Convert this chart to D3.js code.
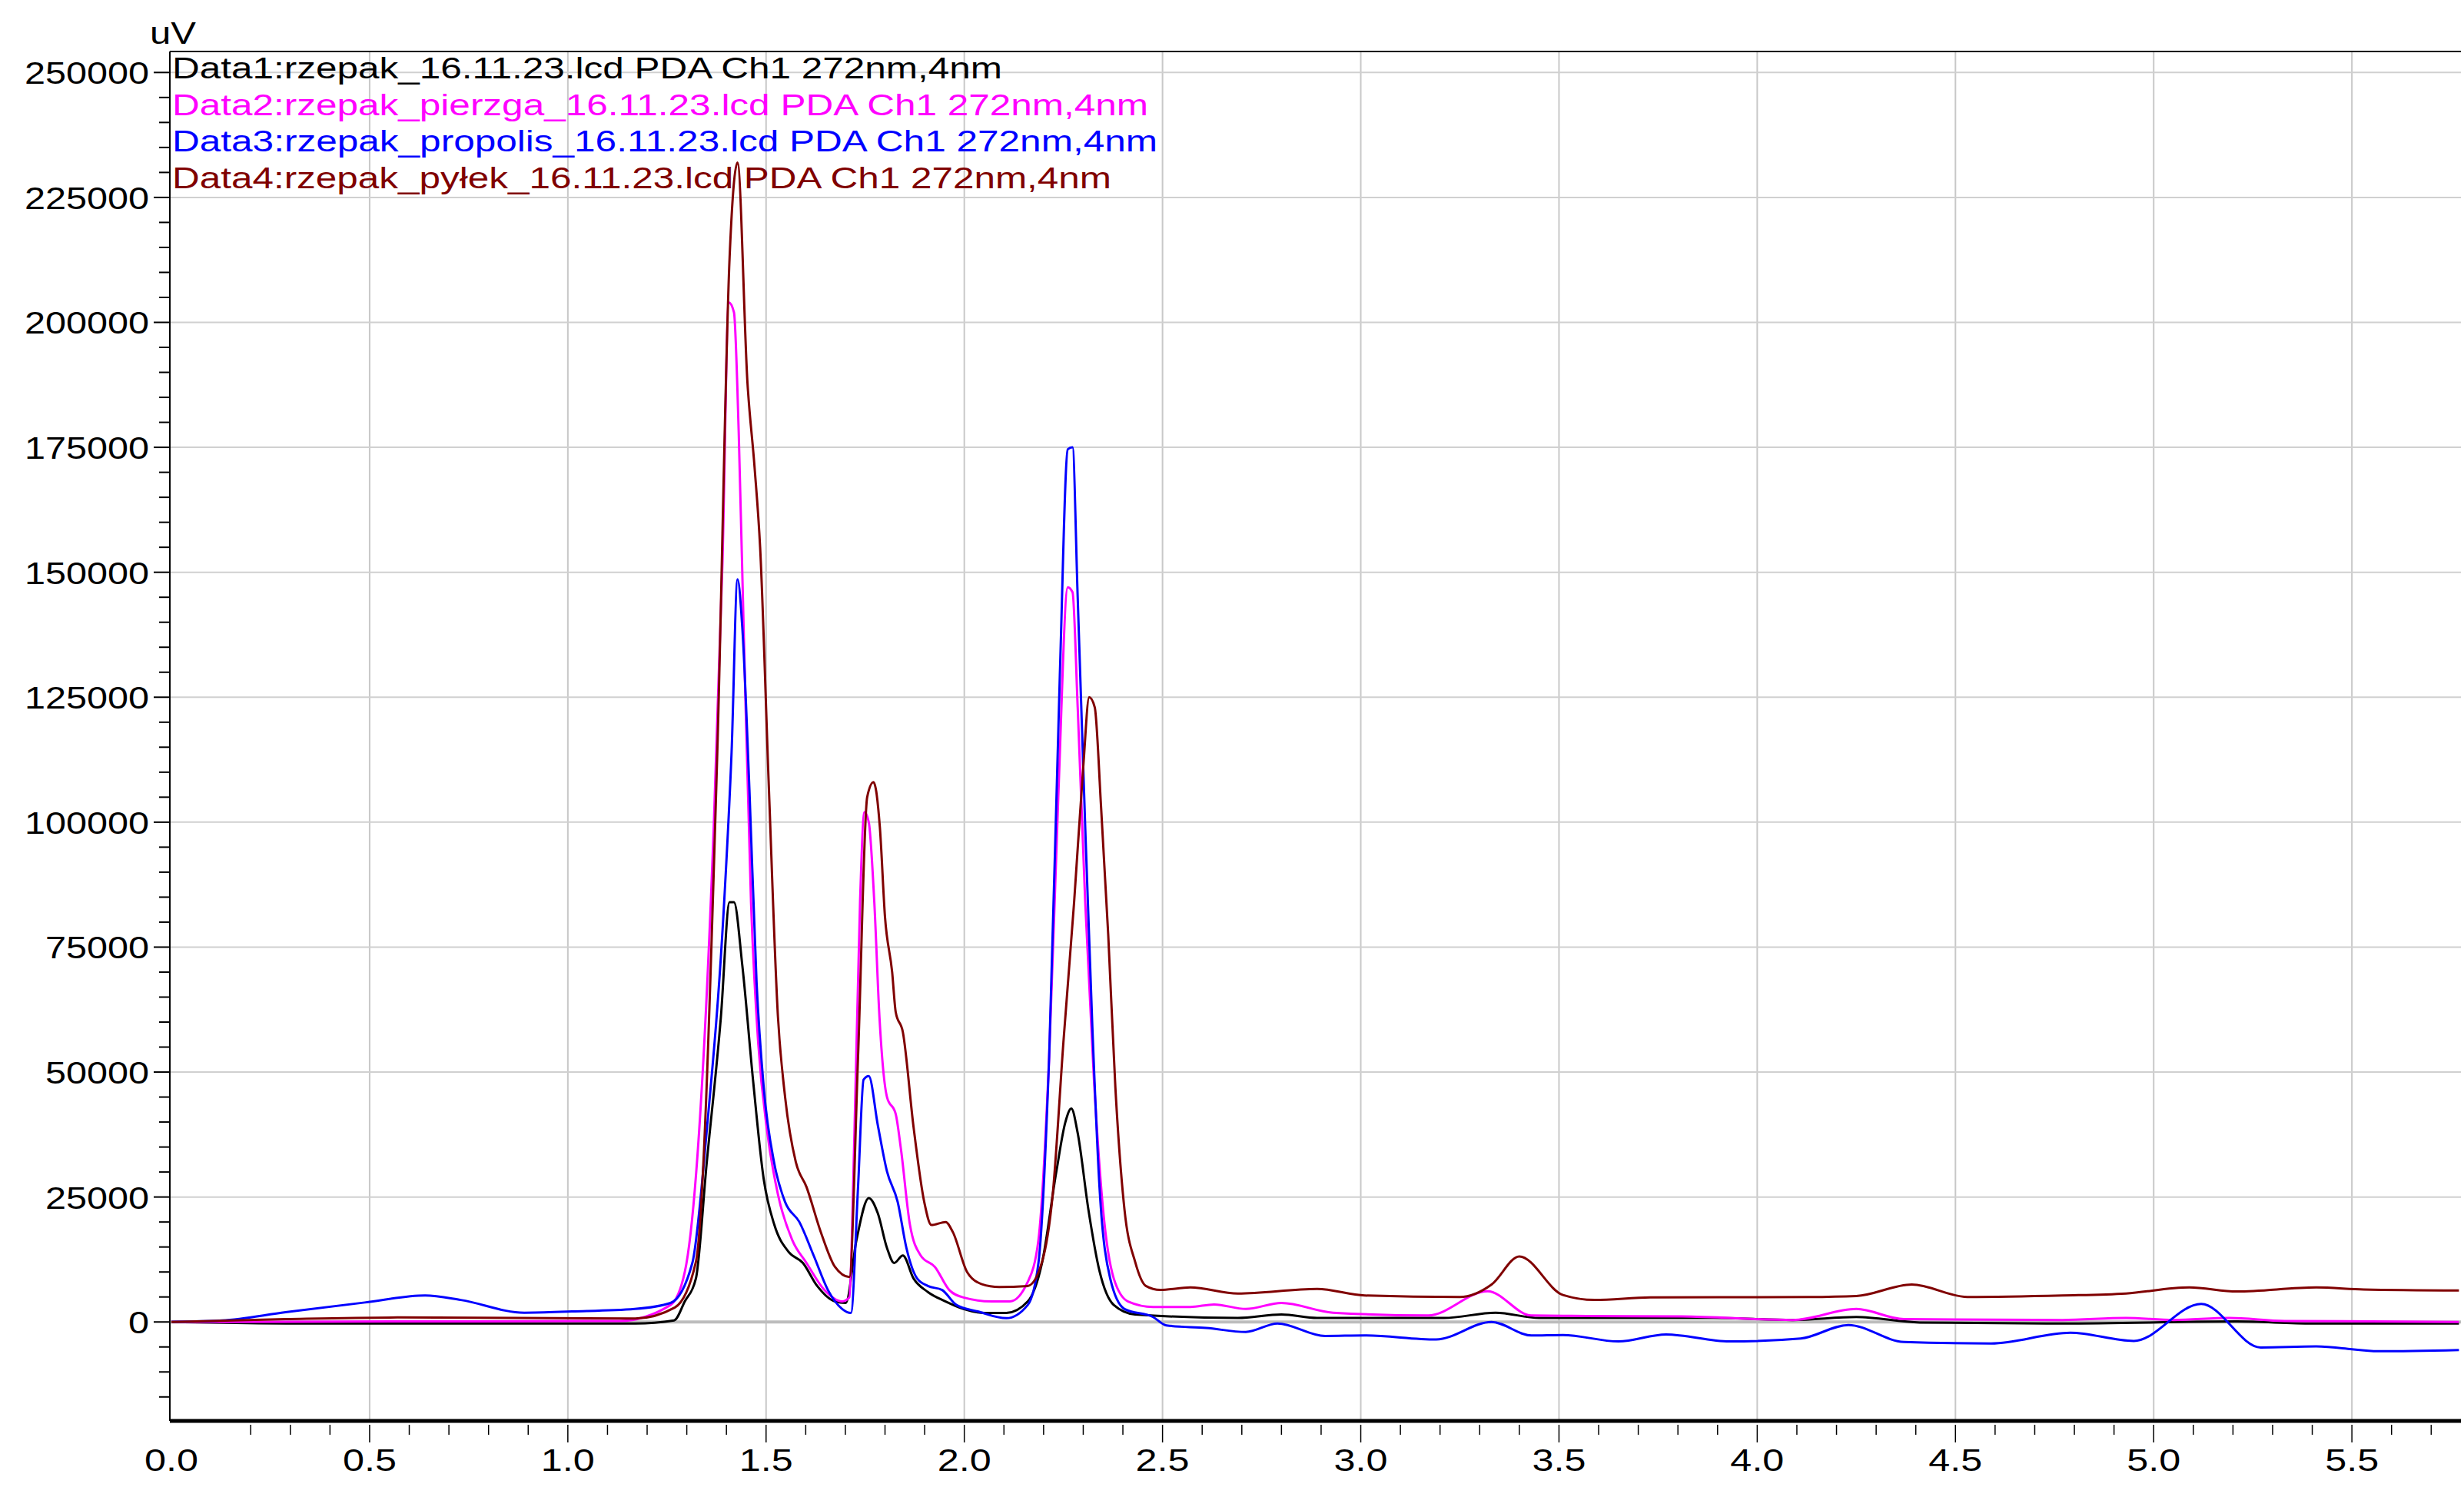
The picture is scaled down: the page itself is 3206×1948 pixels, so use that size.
<!DOCTYPE html>
<html><head><meta charset="utf-8">
<script src="https://cdn.jsdelivr.net/npm/d3@7"></script>
<style>body{margin:0;background:#fff}text{font-family:"Liberation Sans",Arial,sans-serif}</style>
</head><body><div id="chart-area"></div>
<script>
// retention time (min) / signal (uV) pairs
var data1 = [[0,0],[0.29,-300],[1.17,-300],[1.268,300],[1.295,4100],[1.323,8700],[1.35,31600],[1.386,61000],[1.408,84000],[1.419,84000],[1.44,71400],[1.467,48500],[1.494,28600],[1.521,19400],[1.557,14000],[1.593,11800],[1.629,7200],[1.674,4100],[1.701,3800],[1.728,16400],[1.759,24800],[1.782,21700],[1.805,14800],[1.823,11800],[1.845,13300],[1.872,8700],[1.908,6000],[1.953,4100],[1.998,2600],[2.052,1800],[2.106,1800],[2.16,4100],[2.196,11800],[2.232,30000],[2.255,40000],[2.27,42700],[2.286,37800],[2.313,22500],[2.341,10200],[2.377,3400],[2.431,1500],[2.69,800],[2.8,1500],[2.89,800],[3.21,800],[3.34,1850],[3.45,800],[3.89,800],[4.09,400],[4.25,1000],[4.41,-100],[4.77,-300],[5.21,100],[5.4,-300],[5.77,-300]];
var data2 = [[0,0],[0.57,100],[1.13,200],[1.259,3400],[1.295,10000],[1.331,38000],[1.368,99000],[1.39,152000],[1.406,204000],[1.419,202000],[1.431,178000],[1.444,137000],[1.462,84000],[1.48,56000],[1.503,38000],[1.53,25500],[1.566,16400],[1.602,11800],[1.647,6400],[1.692,4100],[1.71,4900],[1.723,38000],[1.737,84000],[1.748,102000],[1.759,100000],[1.773,84000],[1.786,61000],[1.805,45000],[1.827,41600],[1.84,34700],[1.863,19400],[1.89,13300],[1.926,11000],[1.962,6400],[1.998,4900],[2.07,4100],[2.115,4100],[2.16,8000],[2.187,16400],[2.214,53000],[2.237,105000],[2.261,147000],[2.273,146000],[2.286,123000],[2.305,84000],[2.327,48500],[2.35,22500],[2.377,8700],[2.413,4100],[2.476,3000],[2.57,3000],[2.63,3500],[2.71,2600],[2.8,3800],[2.93,1850],[3.17,1300],[3.32,6150],[3.43,1300],[3.57,1200],[3.81,1100],[4.09,400],[4.25,2600],[4.37,560],[4.77,400],[4.93,800],[5.05,400],[5.19,800],[5.33,200],[5.77,0]];
var data3 = [[0,0],[0.128,300],[0.288,1950],[0.488,3900],[0.64,5300],[0.73,4400],[0.89,1850],[1.01,2100],[1.169,2600],[1.259,3800],[1.314,11800],[1.35,38000],[1.395,85000],[1.413,114000],[1.428,148600],[1.44,139000],[1.458,106500],[1.476,68000],[1.494,47000],[1.521,31600],[1.548,24000],[1.584,20000],[1.62,13300],[1.656,6400],[1.692,2600],[1.714,1800],[1.732,27000],[1.746,48500],[1.759,49200],[1.782,39300],[1.805,30100],[1.832,24000],[1.854,14800],[1.881,8700],[1.908,7200],[1.944,6400],[1.98,3400],[2.034,2100],[2.106,750],[2.16,3400],[2.187,11800],[2.214,53000],[2.241,129500],[2.261,174600],[2.273,175000],[2.286,145000],[2.305,99000],[2.323,59000],[2.341,27000],[2.368,8700],[2.404,2600],[2.476,1000],[2.51,-700],[2.61,-1200],[2.71,-2000],[2.79,-300],[2.91,-2800],[3.01,-2700],[3.19,-3500],[3.33,0],[3.43,-2700],[3.51,-2600],[3.65,-3900],[3.77,-2500],[3.93,-3900],[4.11,-3300],[4.23,-600],[4.37,-4000],[4.59,-4300],[4.79,-2150],[4.95,-3800],[5.12,3600],[5.27,-5100],[5.41,-4900],[5.57,-5850],[5.77,-5600]];
var data4 = [[0,0],[0.288,560],[0.57,900],[1.17,700],[1.27,2900],[1.323,12000],[1.377,114000],[1.408,213000],[1.428,232000],[1.453,188000],[1.471,171000],[1.485,155000],[1.507,107000],[1.53,61000],[1.548,45000],[1.575,32000],[1.602,27000],[1.638,18000],[1.674,11000],[1.71,9000],[1.732,53000],[1.755,105000],[1.771,108000],[1.787,99000],[1.8,81000],[1.818,70000],[1.827,62000],[1.845,58000],[1.872,39000],[1.899,24000],[1.917,19400],[1.953,20000],[1.971,18000],[2.007,10000],[2.043,7600],[2.088,7000],[2.16,7200],[2.196,12000],[2.223,25500],[2.25,56000],[2.277,84000],[2.3,111000],[2.315,125000],[2.329,123000],[2.345,103000],[2.363,77500],[2.381,47000],[2.404,22500],[2.431,12000],[2.458,7200],[2.494,6400],[2.57,6900],[2.69,5700],[2.89,6600],[3.01,5300],[3.25,5000],[3.33,7500],[3.4,13100],[3.51,5400],[3.59,4400],[3.73,4900],[4.13,5000],[4.25,5200],[4.39,7500],[4.53,5000],[4.77,5300],[4.93,5700],[5.09,6900],[5.21,6100],[5.41,6900],[5.53,6500],[5.77,6300]];
var series = [data1, data2, data3, data4];
var colors = ["#000000", "#ff00ff", "#0000ff", "#800000"];
var names = ["Data1:rzepak_16.11.23.lcd PDA Ch1 272nm,4nm",
             "Data2:rzepak_pierzga_16.11.23.lcd PDA Ch1 272nm,4nm",
             "Data3:rzepak_propolis_16.11.23.lcd PDA Ch1 272nm,4nm",
             "Data4:rzepak_pyłek_16.11.23.lcd PDA Ch1 272nm,4nm"];
var nameWidths = [1080, 1270, 1282, 1222];
var yTicks = [0, 25000, 50000, 75000, 100000, 125000, 150000, 175000, 200000, 225000, 250000];
var xTicks = [0.0, 0.5, 1.0, 1.5, 2.0, 2.5, 3.0, 3.5, 4.0, 4.5, 5.0, 5.5];

var W = 3206, H = 1948;
var pLeft = 221, pRight = 3202, pTop = 67, pBottom = 1849;
var svg = d3.select("#chart-area").append("svg").attr("width", W).attr("height", H);

var x = d3.scaleLinear().domain([0, 5.775]).range([pLeft + 2, pRight]);
var y = d3.scaleLinear().domain([-19800, 254200]).range([pBottom, pTop]);

// grid
svg.append("g").selectAll("line").data(xTicks.slice(1)).enter().append("line")
    .attr("x1", d => x(d)).attr("x2", d => x(d)).attr("y1", pTop).attr("y2", pBottom)
    .attr("stroke", "#c8c8c8").attr("stroke-width", 2);
svg.append("g").selectAll("line").data(yTicks).enter().append("line")
    .attr("x1", pLeft).attr("x2", pRight).attr("y1", d => y(d)).attr("y2", d => y(d))
    .attr("stroke", d => d == 0 ? "#bdbdbd" : "#d0d0d0").attr("stroke-width", d => d == 0 ? 4 : 2);

// frame
svg.append("line").attr("x1", pLeft).attr("x2", pRight).attr("y1", pTop).attr("y2", pTop).attr("stroke", "#000").attr("stroke-width", 2);
svg.append("line").attr("x1", pLeft).attr("x2", pLeft).attr("y1", pTop).attr("y2", pBottom).attr("stroke", "#000").attr("stroke-width", 2);
svg.append("line").attr("x1", pLeft).attr("x2", pRight).attr("y1", pBottom).attr("y2", pBottom).attr("stroke", "#000").attr("stroke-width", 5);

// y ticks
var yMinor = d3.range(-15000, 254000, 5000);
svg.append("g").selectAll("line").data(yMinor).enter().append("line")
    .attr("x1", d => d % 25000 == 0 ? 200 : 207).attr("x2", pLeft).attr("y1", d => y(d)).attr("y2", d => y(d))
    .attr("stroke", "#000").attr("stroke-width", 2);
svg.append("g").selectAll("text").data(yTicks).enter().append("text")
    .attr("x", 194).attr("y", d => y(d) + 15).attr("text-anchor", "end")
    .attr("font-size", 40).attr("textLength", d => String(d).length * 27).attr("lengthAdjust", "spacingAndGlyphs")
    .text(d => d);
svg.append("text").attr("x", 195).attr("y", 57).attr("font-size", 40).attr("textLength", 60)
    .attr("lengthAdjust", "spacingAndGlyphs").text("uV");

// x ticks
var xMinor = d3.range(0.2, 5.76, 0.1).map(d => Math.round(d * 10) / 10).filter(d => Math.round(d * 10) % 5 != 0);
svg.append("g").selectAll("line").data(xMinor).enter().append("line")
    .attr("x1", d => x(d)).attr("x2", d => x(d)).attr("y1", pBottom + 5).attr("y2", pBottom + 18)
    .attr("stroke", "#000").attr("stroke-width", 1.5);
svg.append("g").selectAll("line").data(xTicks.slice(1)).enter().append("line")
    .attr("x1", d => x(d)).attr("x2", d => x(d)).attr("y1", pBottom + 5).attr("y2", pBottom + 28)
    .attr("stroke", "#000").attr("stroke-width", 1.5);
svg.append("g").selectAll("text").data(xTicks).enter().append("text")
    .attr("x", d => x(d)).attr("y", 1914).attr("text-anchor", "middle")
    .attr("font-size", 40).attr("textLength", 70).attr("lengthAdjust", "spacingAndGlyphs")
    .text(d => d.toFixed(1));

// traces
var line = d3.line().x(d => x(d[0])).y(d => y(d[1])).curve(d3.curveMonotoneX);
svg.append("g").selectAll("path").data(series).enter().append("path")
    .attr("d", line).attr("fill", "none")
    .attr("stroke", (d, i) => colors[i]).attr("stroke-width", 3);

// legend
svg.append("g").selectAll("text").data(names).enter().append("text")
    .attr("x", 224).attr("y", (d, i) => 102 + i * 47.5)
    .attr("font-size", 38).attr("fill", (d, i) => colors[i])
    .attr("textLength", (d, i) => nameWidths[i]).attr("lengthAdjust", "spacingAndGlyphs")
    .text(d => d);
</script></body></html>
